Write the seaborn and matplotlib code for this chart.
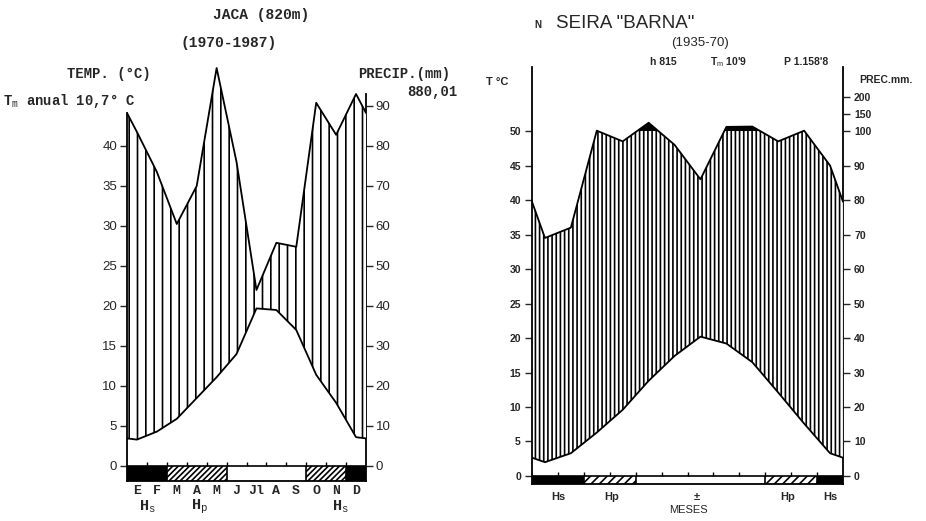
import numpy as np
import matplotlib
matplotlib.use("Agg")
import matplotlib.pyplot as plt
import seaborn as sns

months_jaca = ["E", "F", "M", "A", "M", "J", "Jl", "A", "S", "O", "N", "D"]
temp_jaca = [3.3, 4.3, 5.9, 8.5, 11.1, 14.0, 19.7, 19.5, 17.0, 11.4, 7.9, 3.6]
prec_jaca = [83.5, 73.5, 60.5, 70.0, 99.5, 76.0, 44.0, 55.8, 54.8, 90.8, 82.8, 93.0]
# s = helada segura, p = helada probable, n = sin helada
frost_jaca = ["s", "s", "p", "p", "p", "n", "n", "n", "n", "p", "p", "s"]

temp_barna = [2.0, 3.3, 6.3, 9.6, 13.8, 17.4, 20.2, 19.2, 16.5, 12.1, 7.6, 3.3]
prec_barna = [69, 72, 101, 97, 124, 96, 86, 112, 113, 97, 101, 90]
frost_barna = ["s", "s", "p", "p", "n", "n", "n", "n", "n", "p", "p", "s"]

sns.set_theme(style="white")
plt.rcParams["font.family"] = ["Liberation Sans", "DejaVu Sans"]
plt.rcParams["mathtext.fontset"] = "custom"
plt.rcParams["mathtext.rm"] = "Liberation Mono"
plt.rcParams["mathtext.sf"] = "Liberation Sans"
plt.rcParams["hatch.linewidth"] = 1.2
plt.rcParams["axes.linewidth"] = 1.3
plt.rcParams["axes.edgecolor"] = "black"

MONO = "Liberation Mono"
W, H = 926, 521

x_pts = np.r_[0, np.arange(12) + 0.5, 12]


def wrap(v):
    # cierra la curva en los bordes con la media dic/ene
    v = np.asarray(v, float)
    edge = (v[0] + v[-1]) / 2
    return np.r_[edge, v, edge]


def to_t(p):
    p = np.asarray(p, float)
    return np.where(p <= 100, p / 2, 50 + (p - 100) / 20)


def to_p(t):
    t = np.asarray(t, float)
    return np.where(t <= 50, t * 2, 100 + (t - 50) * 20)


def frost_bar(ax, classes, h, hatch):
    for i, c in enumerate(classes):
        if c == "s":
            ax.bar(i + 0.5, h, bottom=-h, width=1, color="black", linewidth=0)
        elif c == "p":
            ax.bar(i + 0.5, h, bottom=-h, width=1, facecolor="white",
                   edgecolor="black", hatch=hatch, linewidth=0)
    for i in range(1, 12):
        if classes[i] != classes[i - 1]:
            ax.vlines(i, -h, 0, color="black", lw=1.2)
    ax.axhline(0, color="black", lw=1.2)


def px(x, y):
    return x / W, 1 - y / H


fig = plt.figure(figsize=(W / 100, H / 100), dpi=100)

# ---------------- JACA ----------------
ax1 = fig.add_axes([127 / W, 40 / H, 239 / W, 421 / H])
bar1 = 1.875
t1 = wrap(temp_jaca)
p1 = wrap(prec_jaca) / 2
ax1.fill_between(x_pts, t1, p1, where=p1 >= t1, interpolate=True,
                 facecolor="white", edgecolor="black", hatch="||", linewidth=0)
sns.lineplot(x=x_pts, y=t1, ax=ax1, color="black", lw=1.3)
sns.lineplot(x=x_pts, y=p1, ax=ax1, color="black", lw=1.3)
frost_bar(ax1, frost_jaca, bar1, "//////")
ax1.vlines(np.arange(1, 12), 0, 0.5, color="black", lw=1)
ax1.set_xlim(0, 12)
ax1.set_ylim(-bar1, 50.75)
sns.despine(ax=ax1)
ax1.spines["left"].set_bounds(-bar1, p1[0])
ax1.set_yticks(np.arange(0, 45, 5))
ax1.tick_params(axis="y", direction="out", length=5, width=1, labelsize=9.5,
                pad=2, left=True)
ax1.set_xticks(np.arange(12) + 0.5, months_jaca)
ax1.tick_params(axis="x", length=0, pad=3, labelsize=9.5)
for lbl in ax1.get_xticklabels():
    lbl.set_fontfamily(MONO)
    lbl.set_fontweight("bold")
sec1 = ax1.secondary_yaxis("right", functions=(lambda t: t * 2, lambda p: p / 2))
sec1.set_yticks(np.arange(0, 100, 10))
sec1.tick_params(direction="out", length=5, width=1, labelsize=9.5, pad=2)
sec1.spines["right"].set_bounds(-bar1 * 2, 93)

fig.text(*px(261, 15), "JACA (820m)", family=MONO, fontsize=10.5,
         fontweight="bold", ha="center", va="center")
fig.text(*px(229, 43), "(1970-1987)", family=MONO, fontsize=10.5,
         fontweight="bold", ha="center", va="center")
fig.text(*px(109, 74), "TEMP. (°C)", family=MONO, fontsize=10,
         fontweight="bold", ha="center", va="center")
fig.text(*px(3, 101), r"T$_\mathrm{m}$ anual 10,7° C", family=MONO, fontsize=10,
         fontweight="bold", ha="left", va="center")
fig.text(*px(404, 74), "PRECIP.(mm)", family=MONO, fontsize=10,
         fontweight="bold", ha="center", va="center")
fig.text(*px(458, 92), "880,01", family=MONO, fontsize=10,
         fontweight="bold", ha="right", va="center")
for xx, lab in [(147, r"H$_\mathrm{s}$"), (200, r"H$_\mathrm{p}$"), (340, r"H$_\mathrm{s}$")]:
    fig.text(*px(xx, 507), lab, family=MONO, fontsize=11, fontweight="bold",
             ha="center", va="center")

# ---------------- SEIRA "BARNA" ----------------
ax2 = fig.add_axes([532 / W, 37 / H, 311 / W, 417 / H])
bar2 = 1.16
t2 = wrap(temp_barna)
p2 = to_t(wrap(prec_barna))
ax2.fill_between(x_pts, t2, p2, where=p2 >= t2, interpolate=True,
                 facecolor="white", edgecolor="black", hatch="||||", linewidth=0)
ax2.fill_between(x_pts, 50, p2, where=p2 > 50, interpolate=True,
                 color="black", linewidth=0)
sns.lineplot(x=x_pts, y=t2, ax=ax2, color="black", lw=1.3)
sns.lineplot(x=x_pts, y=p2, ax=ax2, color="black", lw=1.3)
frost_bar(ax2, frost_barna, bar2, "////")
ax2.vlines(np.arange(1, 12), 0, 0.6, color="black", lw=1)
ax2.set_xlim(0, 12)
ax2.set_ylim(-bar2, 59.28)
sns.despine(ax=ax2)
ax2.set_xticks([])
ax2.set_yticks(np.arange(0, 55, 5))
ax2.tick_params(axis="y", direction="out", length=5, width=1, labelsize=7.5,
                pad=3, left=True)
for lbl in ax2.get_yticklabels():
    lbl.set_fontweight("bold")
sec2 = ax2.secondary_yaxis("right", functions=(to_p, to_t))
sec2.set_yticks([0, 10, 20, 30, 40, 50, 60, 70, 80, 90, 100, 150, 200])
sec2.tick_params(direction="out", length=5, width=1, labelsize=7.5, pad=3)
for lbl in sec2.get_yticklabels():
    lbl.set_fontweight("bold")

fig.text(*px(538, 25), "N", fontsize=7, fontweight="bold", ha="center", va="center")
fig.text(*px(556, 23), 'SEIRA "BARNA"', fontsize=13.5, ha="left", va="center")
fig.text(*px(700, 43), "(1935-70)", fontsize=9.5, ha="center", va="center")
fig.text(*px(663, 62), "h 815", fontsize=7.5, fontweight="bold", ha="center", va="center")
fig.text(*px(729, 62), r"T$_\mathsf{m}$ 10'9", fontsize=7.5, fontweight="bold",
         ha="center", va="center")
fig.text(*px(806, 62), "P 1.158'8", fontsize=7.5, fontweight="bold", ha="center", va="center")
fig.text(*px(497, 82), "T °C", fontsize=8, fontweight="bold", ha="center", va="center")
fig.text(*px(886, 80), "PREC.mm.", fontsize=7.5, fontweight="bold", ha="center", va="center")
for xx, lab in [(558, "Hs"), (612, "Hp"), (697, "±"), (788, "Hp"), (830, "Hs")]:
    fig.text(*px(xx, 497), lab, fontsize=8, fontweight="bold", ha="center", va="center")
fig.text(*px(688, 510), "MESES", fontsize=8, ha="center", va="center")

fig.savefig("out.png", dpi=100)
